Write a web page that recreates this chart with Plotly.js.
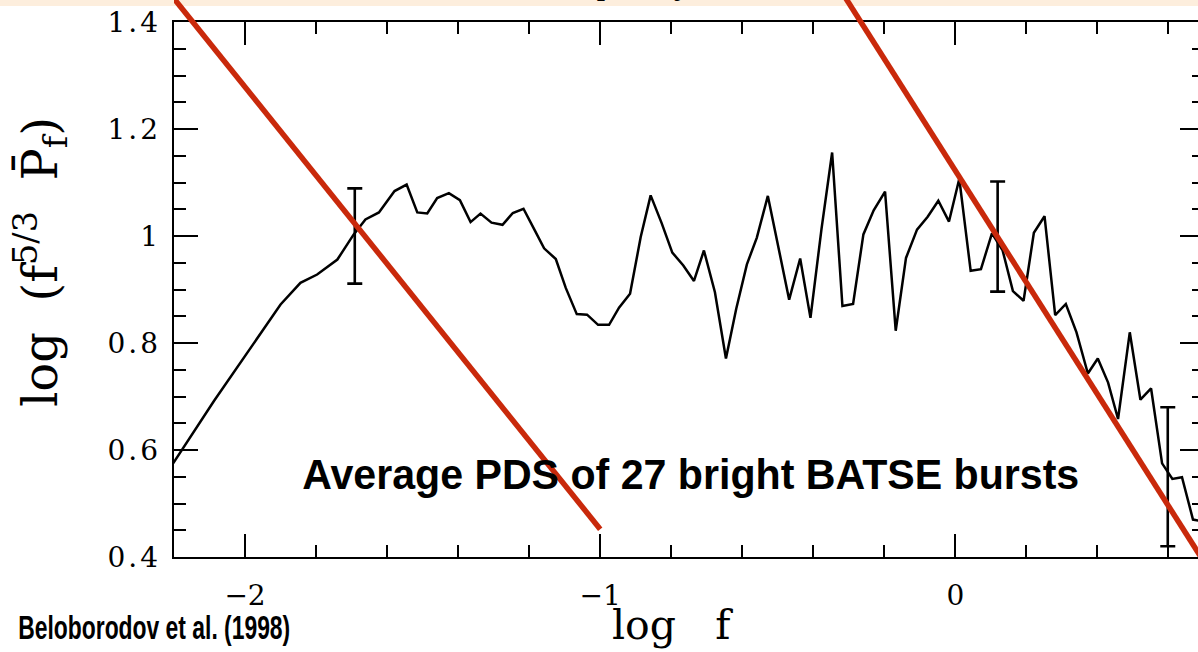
<!DOCTYPE html>
<html>
<head>
<meta charset="utf-8">
<script src="https://cdn.plot.ly/plotly-3.0.1.min.js"></script>
<style>
html, body { margin: 0; padding: 0; overflow: hidden; background: #ffffff; }
#chart { width: 1210px; height: 652px; }
.ytick text { letter-spacing: 3px; }
</style>
</head>
<body>
<div id="chart"></div>
<script>
// ---- data ----
const logF = [-2.25, -2.088, -1.900, -1.844, -1.797, -1.740, -1.694, -1.661, -1.623, -1.579,
  -1.545, -1.515, -1.487, -1.459, -1.426, -1.395, -1.365, -1.337, -1.306, -1.275,
  -1.246, -1.216, -1.186, -1.158, -1.125, -1.097, -1.066, -1.037, -1.006, -0.975,
  -0.947, -0.916, -0.886, -0.858, -0.827, -0.797, -0.766, -0.736, -0.708, -0.677,
  -0.646, -0.617, -0.587, -0.559, -0.528, -0.497, -0.468, -0.437, -0.408, -0.377,
  -0.347, -0.318, -0.288, -0.259, -0.230, -0.198, -0.168, -0.139, -0.108, -0.078,
  -0.048, -0.018, 0.011, 0.043, 0.072, 0.103, 0.133, 0.162, 0.192, 0.221,
  0.251, 0.281, 0.311, 0.341, 0.373, 0.401, 0.430, 0.458, 0.491, 0.521,
  0.551, 0.582, 0.611, 0.638, 0.669, 0.700];
const logPDS = [0.527, 0.691, 0.872, 0.9125, 0.928, 0.956, 1.003, 1.031, 1.044, 1.084,
  1.096, 1.044, 1.042, 1.071, 1.080, 1.067, 1.026, 1.042, 1.025, 1.021,
  1.043, 1.051, 1.013, 0.977, 0.957, 0.903, 0.854, 0.853, 0.834, 0.834,
  0.866, 0.892, 0.998, 1.076, 1.024, 0.969, 0.945, 0.916, 0.973, 0.895,
  0.771, 0.864, 0.947, 0.997, 1.075, 0.978, 0.881, 0.958, 0.847, 1.013,
  1.156, 0.869, 0.873, 1.003, 1.048, 1.083, 0.823, 0.959, 1.012, 1.036,
  1.066, 1.027, 1.107, 0.935, 0.938, 1.005, 0.973, 0.897, 0.879, 1.006,
  1.037, 0.852, 0.873, 0.820, 0.743, 0.771, 0.726, 0.658, 0.820, 0.694,
  0.715, 0.575, 0.546, 0.549, 0.470, 0.466];

const errX = [-1.691, 0.119, 0.598];
const errY = [1.000, 0.999, 0.550];
const errHalf = [0.089, 0.103, 0.130];

const fitLowX = [-2.21, -1.0];
const fitLowY = [1.452, 0.452];
const fitHighX = [-0.314, 0.72];
const fitHighY = [1.45, 0.370];

const xTickVals = [-2, -1, 0];
const xTickText = ['\u22122', '\u22121', '0'];
const yTickVals = [0.4, 0.6, 0.8, 1.0, 1.2, 1.4];
const yTickText = ['0.4', '0.6', '0.8', '1', '1.2', '1.4'];

// ---- geometry ----
const W = 1210, H = 652, L = 174, R = 6, T = 0, B = 95;
const plotW = W - L - R, plotH = H - T - B;
const axisTopPx = 22;
const yDomTop = (plotH - axisTopPx) / plotH;
const xRange = [-2.2, 0.7];
const yRange = [0.4, 1.4];
const y2Range = [0.4, 0.4 + (yRange[1] - yRange[0]) / yDomTop];
const px = v => (v - L) / plotW;
const py = v => (H - B - v) / plotH;

const RED = '#c9290b';
const tickFont = {family: 'DejaVu Serif', size: 28, color: '#000'};

const traces = [
  {x: logF, y: logPDS, type: 'scatter', mode: 'lines', xaxis: 'x', yaxis: 'y',
   line: {color: '#000', width: 2.5}, hoverinfo: 'skip'},
  {x: errX, y: errY, type: 'scatter', mode: 'markers', xaxis: 'x', yaxis: 'y',
   marker: {size: 1, color: 'rgba(0,0,0,0)'},
   error_y: {type: 'data', array: errHalf, symmetric: true, color: '#000', thickness: 2.6, width: 7.5},
   hoverinfo: 'skip'},
  {x: fitLowX, y: fitLowY, type: 'scatter', mode: 'lines', xaxis: 'x2', yaxis: 'y2',
   line: {color: RED, width: 5.5}, hoverinfo: 'skip'},
  {x: fitHighX, y: fitHighY, type: 'scatter', mode: 'lines', xaxis: 'x2', yaxis: 'y2',
   line: {color: RED, width: 5.5}, hoverinfo: 'skip'}
];

const layout = {
  width: W, height: H,
  margin: {l: L, r: R, t: T, b: B, pad: 0},
  paper_bgcolor: '#ffffff',
  plot_bgcolor: 'rgba(0,0,0,0)',
  showlegend: false,
  xaxis: {
    domain: [0, 1], anchor: 'y', range: xRange, fixedrange: true,
    showline: true, linecolor: '#000', linewidth: 2.4, mirror: 'ticks',
    ticks: 'inside', ticklen: 23, tickwidth: 2, tickcolor: '#000',
    tickmode: 'array', tickvals: xTickVals, ticktext: xTickText,
    tickfont: tickFont, ticklabelstandoff: 12,
    minor: {dtick: 0.2, tick0: 0, ticks: 'inside', ticklen: 12, tickwidth: 2, tickcolor: '#000', showgrid: false},
    showgrid: false, zeroline: false
  },
  yaxis: {
    domain: [0, yDomTop], anchor: 'x', range: yRange, fixedrange: true,
    showline: true, linecolor: '#000', linewidth: 2.4, mirror: 'ticks',
    ticks: 'inside', ticklen: 24, tickwidth: 2, tickcolor: '#000',
    tickmode: 'array', tickvals: yTickVals, ticktext: yTickText,
    tickfont: tickFont, ticklabelstandoff: 5,
    minor: {dtick: 0.05, tick0: 0.4, ticks: 'inside', ticklen: 12, tickwidth: 2, tickcolor: '#000', showgrid: false},
    showgrid: false, zeroline: false
  },
  xaxis2: {domain: [0, 1], anchor: 'y2', range: xRange, visible: false, fixedrange: true},
  yaxis2: {domain: [0, 1], anchor: 'x2', range: y2Range, visible: false, fixedrange: true},
  shapes: [
    {type: 'rect', xref: 'paper', yref: 'paper', x0: px(-10), x1: px(1300), y0: py(6), y1: py(-20),
     fillcolor: '#fdeedd', line: {width: 0}, layer: 'below'}
  ],
  annotations: [
    {text: 'Frequency (Hz)', xref: 'paper', yref: 'paper', x: px(648), y: py(4),
     xanchor: 'center', yanchor: 'bottom', showarrow: false,
     font: {family: 'DejaVu Serif', size: 28, color: '#000'}},
    {text: 'Average PDS of 27 bright BATSE bursts', xref: 'paper', yref: 'paper',
     x: px(691), y: py(474), xanchor: 'center', yanchor: 'middle', showarrow: false,
     font: {family: 'Liberation Sans, Arial, sans-serif', size: 42, color: '#000', weight: 'bold'}},
    {text: 'Beloborodov et al. (1998)', xref: 'paper', yref: 'paper',
     x: px(154), y: py(627), xanchor: 'center', yanchor: 'middle', showarrow: false,
     font: {family: 'Liberation Sans, Arial, sans-serif', size: 33, color: '#000', weight: 'bold'}},
    {text: 'log\u00a0\u00a0\u00a0f', xref: 'paper', yref: 'paper',
     x: px(672), y: py(625), xanchor: 'center', yanchor: 'middle', showarrow: false,
     font: {family: 'DejaVu Serif', size: 41, color: '#000'}},
    {text: 'log\u00a0\u00a0(f<sup>5/3</sup>\u00a0\u00a0P\u0304<sub>f</sub>)', xref: 'paper', yref: 'paper',
     x: px(40), y: py(262), xanchor: 'center', yanchor: 'middle', textangle: -90, showarrow: false,
     font: {family: 'DejaVu Serif', size: 48, color: '#000'}}
  ]
};

// condensed bold labels: fit the drawn text to the widths seen in the reference
const squeeze = {
  'Average PDS of 27 bright BATSE bursts': 777,
  'Beloborodov et al. (1998)': 272
};

Plotly.newPlot('chart', traces, layout, {staticPlot: true, displayModeBar: false}).then(gd => {
  gd.querySelectorAll('.annotation-text').forEach(t => {
    const want = squeeze[t.textContent];
    if (want) {
      t.setAttribute('textLength', want);
      t.setAttribute('lengthAdjust', 'spacingAndGlyphs');
    }
  });
});
</script>
</body>
</html>
